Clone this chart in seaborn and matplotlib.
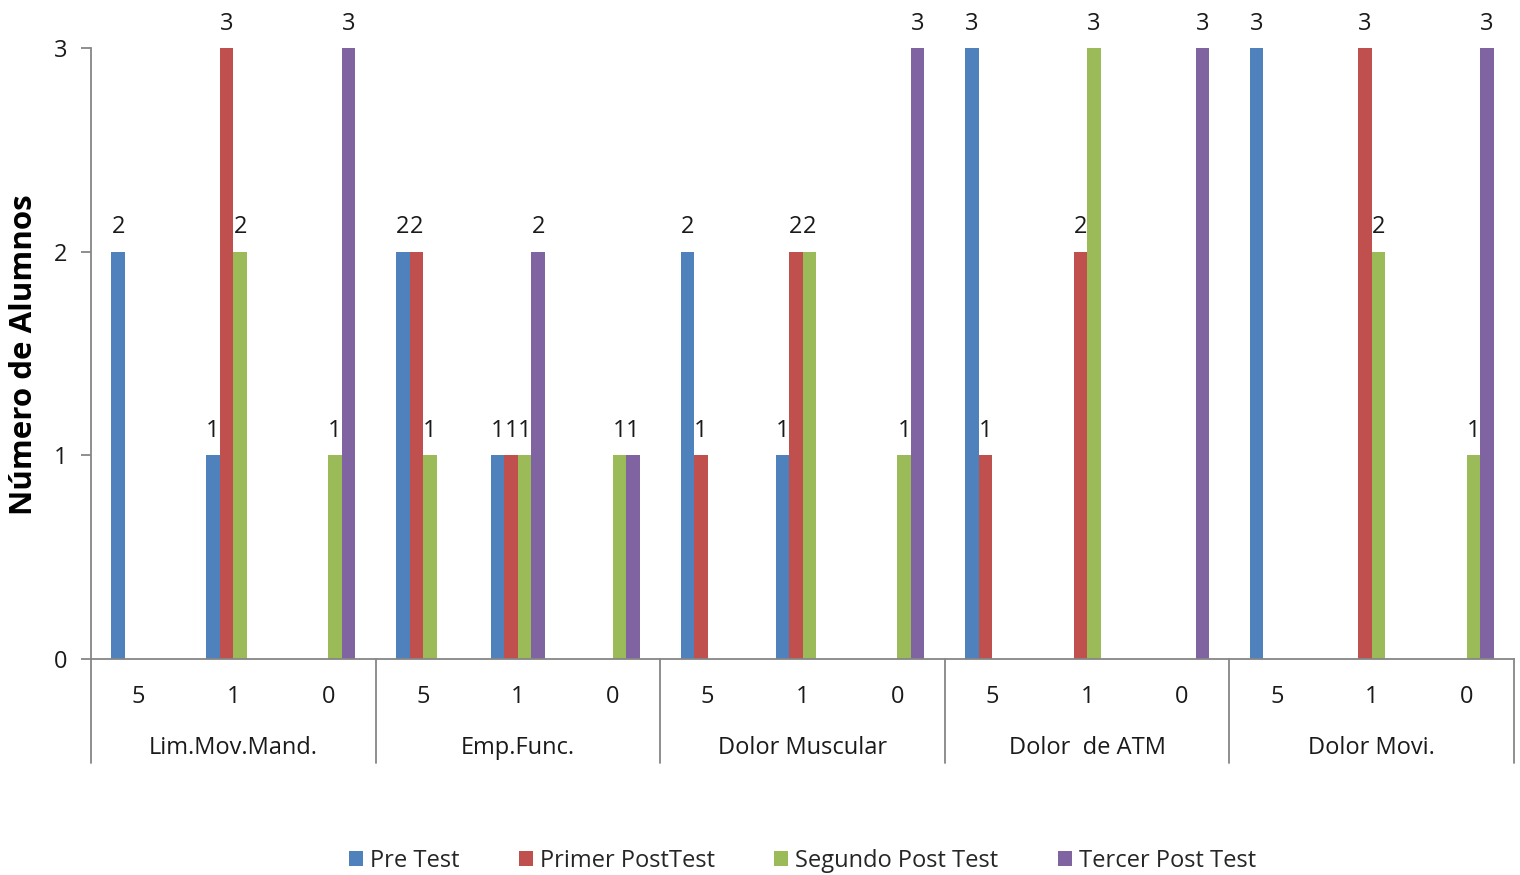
import matplotlib
matplotlib.use("Agg")
import matplotlib.pyplot as plt
import matplotlib.transforms as mtransforms
from matplotlib.patches import Patch
import seaborn as sns
import pandas as pd

# Categories
groups = ["Lim.Mov.Mand.", "Emp.Func.", "Dolor Muscular", "Dolor  de ATM", "Dolor Movi."]
levels = ["5", "1", "0"]
series = ["Pre Test", "Primer PostTest", "Segundo Post Test", "Tercer Post Test"]

# Counts per (group, level), in group order then level order
pre_test = [2, 1, 0, 2, 1, 0, 2, 1, 0, 3, 0, 0, 3, 0, 0]
primer_post = [0, 3, 0, 2, 1, 0, 1, 2, 0, 1, 2, 0, 0, 3, 0]
segundo_post = [0, 2, 1, 1, 1, 1, 0, 2, 1, 0, 3, 0, 0, 2, 1]
tercer_post = [0, 0, 3, 0, 2, 1, 0, 0, 3, 0, 0, 3, 0, 0, 3]

yticks = [0, 1, 2, 3]
colors = ["#4F81BD", "#C0504D", "#9BBB59", "#8064A2"]

sns.set_theme(style="white")
plt.rcParams["font.family"] = ["Open Sans", "DejaVu Sans"]

FS = 17
TXT = "#1a1a1a"

slots = [f"{g}|{l}" for g in groups for l in levels]
rows = []
for name, vals in zip(series, [pre_test, primer_post, segundo_post, tercer_post]):
    for s, v in zip(slots, vals):
        rows.append({"slot": s, "serie": name, "valor": v})
df = pd.DataFrame(rows)

fig = plt.figure(figsize=(15.2, 8.75), dpi=100)
ax = fig.add_axes([0.0599, 0.2469, 0.9362, 0.6982])

sns.barplot(data=df, x="slot", y="valor", hue="serie", order=slots,
            hue_order=series, palette=colors, width=0.57, ax=ax,
            errorbar=None, legend=False, saturation=1, linewidth=0)

# Value labels above non-zero bars
for cont in ax.containers:
    labs = [f"{v:g}" if v > 0 else "" for v in cont.datavalues]
    ax.bar_label(cont, labels=labs, padding=9, fontsize=FS, color=TXT,
                 clip_on=False)

ax.set_xlim(-0.5, len(slots) - 0.5)
ax.set_ylim(0, 3)
ax.set_yticks(yticks)
ax.set_yticklabels([str(t) for t in yticks], fontsize=FS, color=TXT)
ax.tick_params(axis="y", length=7, width=1.3, color="#868686", left=True,
               direction="out", pad=10)
ax.set_xticks([])
ax.set_xlabel("")
ax.set_ylabel("")
fig.text(24 / 1520, 1 - 355 / 875, "Número de Alumnos", rotation=90,
         ha="center", va="center", fontsize=22.5, fontweight="bold",
         color="#000000")

for side in ["top", "right"]:
    ax.spines[side].set_visible(False)
for side in ["left", "bottom"]:
    ax.spines[side].set_color("#868686")
    ax.spines[side].set_linewidth(1.3)

# Two-level category axis
trans = mtransforms.blended_transform_factory(ax.transData, ax.transAxes)
for i, s in enumerate(slots):
    ax.text(i, -0.062, s.split("|")[1], transform=trans, ha="center",
            va="center", fontsize=FS, color=TXT)
for gi, g in enumerate(groups):
    center = gi * len(levels) + (len(levels) - 1) / 2
    ax.text(center, -0.146, g, transform=trans, ha="center", va="center",
            fontsize=FS, color=TXT)
for b in range(len(groups) + 1):
    xb = b * len(levels) - 0.5
    ax.plot([xb, xb], [0, -0.170], transform=trans, color="#868686",
            lw=1.3, clip_on=False)

handles = [Patch(facecolor=c, edgecolor="none") for c in colors]
fig.legend(handles, series, loc="center", bbox_to_anchor=(0.528, 0.016),
           ncol=4, frameon=False, fontsize=FS, handlelength=0.6,
           handleheight=0.6, handletextpad=0.3, columnspacing=2.5)

fig.savefig("out.png", dpi=100)
